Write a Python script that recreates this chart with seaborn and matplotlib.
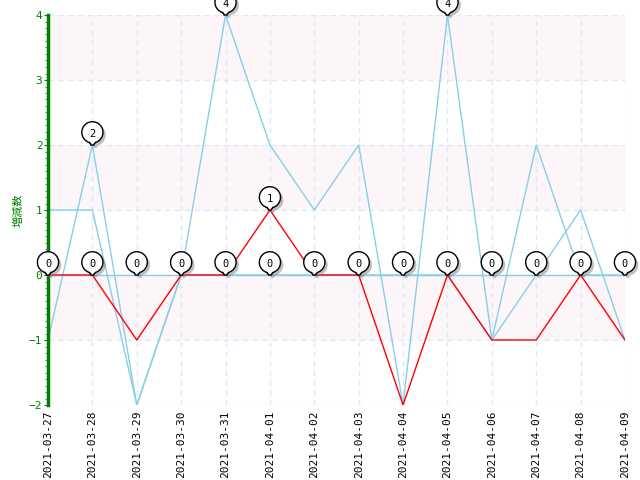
import numpy as np
import pandas as pd
import seaborn as sns
import matplotlib
matplotlib.use("Agg")
import matplotlib.pyplot as plt
import matplotlib.dates as mdates
from matplotlib.path import Path
from matplotlib.ticker import MultipleLocator
import matplotlib.patheffects as pe

# datos del gráfico
fechas = ["2021-03-27", "2021-03-28", "2021-03-29", "2021-03-30", "2021-03-31",
          "2021-04-01", "2021-04-02", "2021-04-03", "2021-04-04", "2021-04-05",
          "2021-04-06", "2021-04-07", "2021-04-08", "2021-04-09"]
serie_roja = [0, 0, -1, 0, 0, 1, 0, 0, -2, 0, -1, -1, 0, -1]
serie_azul1 = [-1, 2, -2, 0, 4, 2, 1, 2, -2, 4, -1, 2, 0, 0]
serie_azul2 = [1, 1, -2, 0, 0, 0, 0, 0, 0, 0, -1, 0, 1, -1]
serie_azul3 = [0, 0, 0, 0, 0, 0, 0, 0, 0, 0, 0, 0, 0, 0]
# etiquetas (globos)
globo_fechas = fechas + ["2021-03-28", "2021-03-31", "2021-04-01", "2021-04-05"]
globo_valores = [0] * 14 + [2, 4, 1, 4]
etiqueta_y = "増減数"

verde = "#008000"
azul = "#87ceeb"

x = pd.to_datetime(fechas)

fig = plt.figure(figsize=(6.4, 4.8), dpi=100)
ax = fig.add_axes([48 / 640, 1 - 405 / 480, 577 / 640, 390 / 480])

# bandas de fondo
for lo in [-1, 1, 3]:
    ax.axhspan(lo, lo + 1, color="#fdf6f8", zorder=0, lw=0)

# lineas
for s in [serie_azul3, serie_azul2, serie_azul1]:
    sns.lineplot(x=x, y=s, color=azul, lw=1, ax=ax, zorder=2)
sns.lineplot(x=x, y=serie_roja, color="red", lw=1, ax=ax, zorder=3)

ax.set_xlim(x[0], x[-1])
ax.set_ylim(-2, 4)

# rejilla
ax.grid(True, ls=(0, (4, 3)), color="#dde9fa", lw=1)
ax.set_axisbelow(True)

# ejes
for k in ["top", "right", "bottom"]:
    ax.spines[k].set_visible(False)
ax.spines["left"].set_color(verde)
ax.spines["left"].set_linewidth(2.5)

ax.yaxis.set_major_locator(MultipleLocator(1))
ax.yaxis.set_minor_locator(MultipleLocator(0.1))
ax.tick_params(axis="y", which="major", colors=verde, length=3, labelsize=8,
               labelfontfamily="DejaVu Sans Mono", pad=1)
ax.tick_params(axis="y", which="minor", color="#4a6a4a", length=2)
ax.xaxis.set_major_locator(mdates.DayLocator())
ax.xaxis.set_major_formatter(mdates.DateFormatter("%Y-%m-%d"))
ax.tick_params(axis="x", length=0, labelsize=8, rotation=90,
               labelfontfamily="DejaVu Sans Mono", pad=4)
ax.set_xlabel("")
ax.set_ylabel(etiqueta_y, color=verde, fontsize=8, family=["Noto Sans CJK JP", "DejaVu Sans"],
              labelpad=4)

# globo (pin) como marcador
arco = Path.arc(-76, 256)
cy = 1.2
verts = [(vx, vy + cy) for vx, vy in arco.vertices]
codes = list(arco.codes)
x0 = verts[-1][0]
verts += [(x0, 0.16), (-0.15, 0.1), (-0.15, 0.0), (0.15, 0.0), (0.15, 0.1),
          (verts[0][0], 0.16), verts[0]]
codes += [Path.LINETO] * 7
pin = Path(verts, codes)

gx = pd.to_datetime(globo_fechas)
sc = ax.scatter(gx, globo_valores, marker=pin, s=33.5 ** 2, facecolor="white",
                edgecolor="black", lw=1, zorder=6, clip_on=False)
sc.set_path_effects([pe.SimplePatchShadow(offset=(2, -2), shadow_rgbFace="gray", alpha=0.5),
                     pe.Normal()])
for fx, v in zip(gx, globo_valores):
    ax.annotate(str(v), xy=(fx, v), xytext=(0, 8.0), textcoords="offset points",
                ha="center", va="center", fontsize=7.5, family="DejaVu Sans Mono",
                zorder=7, annotation_clip=False)

fig.savefig("out.png", dpi=100)
